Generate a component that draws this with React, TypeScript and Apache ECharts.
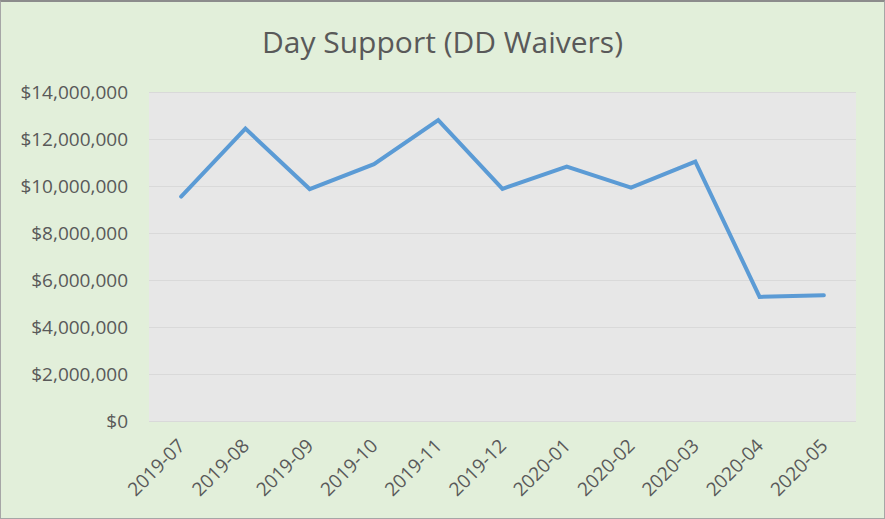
import React, { useEffect, useRef } from "react";
import * as echarts from "echarts";

const categories = ["2019-07", "2019-08", "2019-09", "2019-10", "2019-11", "2019-12", "2020-01", "2020-02", "2020-03", "2020-04", "2020-05"];
const values = [9550000, 12440000, 9870000, 10930000, 12800000, 9880000, 10830000, 9930000, 11040000, 5280000, 5350000];
const yTicks = [0, 2000000, 4000000, 6000000, 8000000, 10000000, 12000000, 14000000];

const fmt = (v: number) => "$" + v.toLocaleString("en-US");

export default function App() {
  const ref = useRef<HTMLDivElement>(null);
  useEffect(() => {
    if (!ref.current) return;
    const chart = echarts.init(ref.current, undefined, { renderer: "svg" });
    chart.setOption({
      animation: false,
      backgroundColor: "#E2EFDA",
      textStyle: { fontFamily: "Open Sans" },
      title: {
        text: "Day Support (DD Waivers)",
        left: "center",
        top: 19,
        textStyle: { fontSize: 30, fontWeight: "normal", color: "#595959", fontFamily: "Open Sans" },
      },
      grid: {
        left: 148,
        right: 28,
        top: 90,
        bottom: 97,
        show: true,
        backgroundColor: "#E7E7E7",
        borderWidth: 0,
      },
      xAxis: {
        type: "category",
        data: categories,
        boundaryGap: true,
        axisLine: { show: false },
        axisTick: { show: false },
        axisLabel: { rotate: 45, fontSize: 19, color: "#595959", margin: 21, interval: 0 },
      },
      yAxis: {
        type: "value",
        min: yTicks[0],
        max: yTicks[yTicks.length - 1],
        interval: 2000000,
        axisLine: { show: false },
        axisTick: { show: false },
        splitLine: { lineStyle: { color: "#D9D9D9", width: 1 } },
        axisLabel: { fontSize: 19, color: "#595959", margin: 21, formatter: (v: number) => fmt(v) },
      },
      series: [
        {
          type: "line",
          data: values,
          symbol: "none",
          lineStyle: { color: "#5B9BD5", width: 4, cap: "round", join: "miter" },
        },
      ],
    });
    return () => chart.dispose();
  }, []);
  return (
    <div
      style={{ position: "absolute", left: 0, top: 0, width: 885, height: 519, boxSizing: "border-box", border: "1px solid #A6A6A6", borderTop: "2px solid #8C8C8C" }}
    >
      <div ref={ref} style={{ width: "100%", height: "100%" }} />
    </div>
  );
}
